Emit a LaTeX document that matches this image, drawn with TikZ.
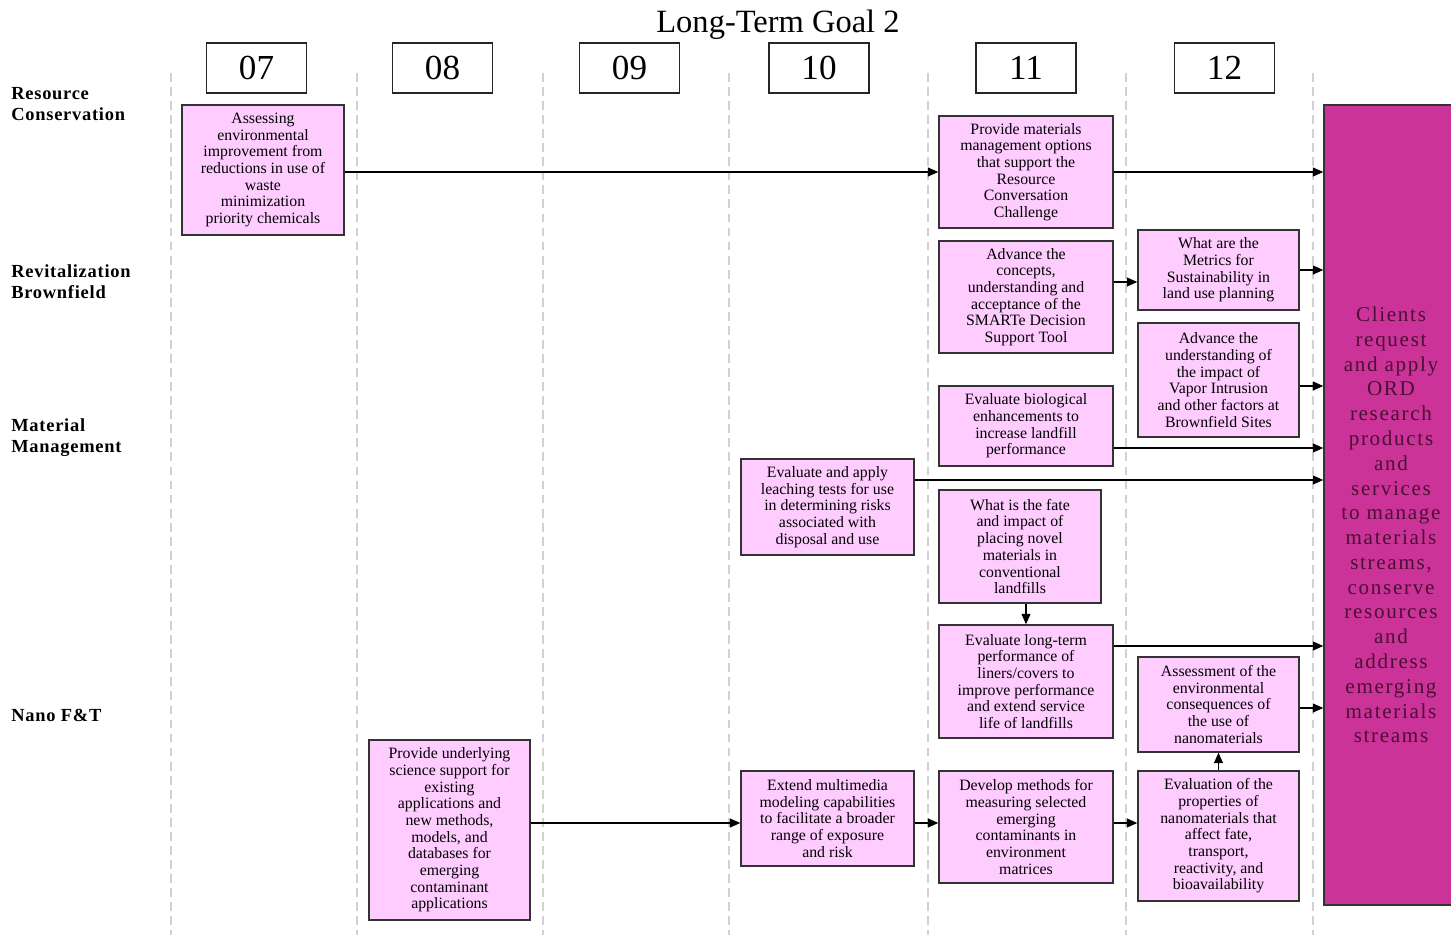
\documentclass[tikz,border=0pt]{standalone}
\usepackage{fontspec}
\setmainfont{Liberation Serif}
\newfontfamily\wideserif[LetterSpace=8]{Liberation Serif}
\newfontfamily\laneserif[LetterSpace=4]{Liberation Serif}
\usepackage{xcolor}
\usetikzlibrary{arrows.meta, positioning}
\definecolor{taskpink}{HTML}{FFCCFF}
\definecolor{clientmagenta}{HTML}{CC3399}
\definecolor{clientink}{HTML}{4A0F33}

\begin{document}
\begin{tikzpicture}[x=0.02cm, y=-0.02cm,
    task/.style={draw=black!80, line width=0.8pt, fill=taskpink, align=center, inner sep=1pt, font=\fontsize{9}{9.5}\selectfont},
    year/.style={draw=black!85, line width=0.8pt, minimum width=2cm, minimum height=1cm, inner sep=0pt, font=\fontsize{20}{20}\selectfont},
    lane/.style={anchor=west, align=left, inner sep=0pt, font=\laneserif\bfseries\fontsize{10.5}{11.9}\selectfont},
    link/.style={-{Triangle[length=0.21cm,width=0.18cm]}, line width=0.7pt},
    gridline/.style={draw=black!18, line width=0.6pt, dash pattern=on 5pt off 3pt}]
    \useasboundingbox (0,0) rectangle (1451,935);

    % year columns
    \foreach \xx in {171,357,543,729,928,1126,1313}
        \draw[gridline] (\xx,73) -- (\xx,935);
    \node[font=\fontsize{18.5}{20}\selectfont] (goal) at (778,25) {Long-Term Goal 2};
    \foreach \yr/\xx in {07/256.5, 08/442.5, 09/629.5, 10/819, 11/1026, 12/1224.5}
        \node[fill=white, year] (yr\yr) at (\xx,68) {\yr};

    % lanes
    \node[lane] (rescons) at (11,104.5) {Resource\\Conservation};
    \node[lane] (brown) at (11,281.5) {Revitalization\\Brownfield};
    \node[lane] (matman) at (11,437.5) {Material\\Management};
    \node[lane] (nano) at (11,715) {Nano F\&T};

    % tasks
    \node[task, minimum width=3.24cm, minimum height=2.6cm] (assess) at (263,170) {Assessing\\environmental\\improvement from\\reductions in use of\\waste\\minimization\\priority chemicals};
    \node[task, minimum width=3.48cm, minimum height=2.24cm] (options) at (1026,172) {Provide materials\\management options\\that support the\\Resource\\Conversation\\Challenge};
    \node[task, minimum width=3.48cm, minimum height=2.24cm] (smarte) at (1026,297) {Advance the\\concepts,\\understanding and\\acceptance of the\\SMARTe Decision\\Support Tool};
    \node[task, minimum width=3.22cm, minimum height=1.6cm] (metrics) at (1218.5,270) {What are the\\Metrics for\\Sustainability in\\land use planning};
    \node[task, minimum width=3.22cm, minimum height=2.28cm] (vapor) at (1218.5,380) {Advance the\\understanding of\\the impact of\\Vapor Intrusion\\and other factors at\\Brownfield Sites};
    \node[task, minimum width=3.48cm, minimum height=1.6cm] (bio) at (1026,426) {Evaluate biological\\enhancements to\\increase landfill\\performance};
    \node[task, minimum width=3.46cm, minimum height=1.92cm] (leach) at (827.5,507) {Evaluate and apply\\leaching tests for use\\in determining risks\\associated with\\disposal and use};
    \node[task, minimum width=3.24cm, minimum height=2.26cm] (fate) at (1020,546.5) {What is the fate\\and impact of\\placing novel\\materials in\\conventional\\landfills};
    \node[task, minimum width=3.48cm, minimum height=2.26cm] (liners) at (1026,681.5) {Evaluate long-term\\performance of\\liners/covers to\\improve performance\\and extend service\\life of landfills};
    \node[task, minimum width=3.22cm, minimum height=1.9cm] (nanoenv) at (1218.5,704.5) {Assessment of the\\environmental\\consequences of\\the use of\\nanomaterials};
    \node[task, minimum width=3.22cm, minimum height=3.6cm] (science) at (449.5,830) {Provide underlying\\science support for\\existing\\applications and\\new methods,\\models, and\\databases for\\emerging\\contaminant\\applications};
    \node[task, minimum width=3.46cm, minimum height=1.9cm] (multimedia) at (827.5,818.5) {Extend multimedia\\modeling capabilities\\to facilitate a broader\\range of exposure\\and risk};
    \node[task, minimum width=3.48cm, minimum height=2.24cm] (methods) at (1026,827) {Develop methods for\\measuring selected\\emerging\\contaminants in\\environment\\matrices};
    \node[task, minimum width=3.22cm, minimum height=2.6cm] (nanoprop) at (1218.5,836) {Evaluation of the\\properties of\\nanomaterials that\\affect fate,\\transport,\\reactivity, and\\bioavailability};

    % outcome
    \node[draw=black!80, line width=0.8pt, fill=clientmagenta, minimum width=2.6cm, minimum height=16cm] (clients) at (1389,505) {};
    \node[align=center, text=clientink, font=\wideserif\fontsize{12}{14.1}\selectfont] (clientsnote) at (1391,525) {Clients\\request\\and apply\\ORD\\research\\products\\and\\services\\to manage\\materials\\streams,\\conserve\\resources\\and\\address\\emerging\\materials\\streams};

    % links
    \draw[link] (assess.east |- options) -- (options.west);
    \draw[link] (options.east) -- (options.east -| clients.west);
    \draw[link] ([yshift=0.3cm]smarte.east) -- ([yshift=0.3cm]smarte.east -| metrics.west);
    \draw[link] (metrics.east) -- (metrics.east -| clients.west);
    \draw[link] ([yshift=-0.12cm]vapor.east) -- ([yshift=-0.12cm]vapor.east -| clients.west);
    \draw[link] ([yshift=-0.44cm]bio.east) -- ([yshift=-0.44cm]bio.east -| clients.west);
    \draw[link] ([yshift=0.54cm]leach.east) -- ([yshift=0.54cm]leach.east -| clients.west);
    \draw[link] (fate.south -| liners.north) -- (liners.north);
    \draw[link] ([yshift=0.71cm]liners.east) -- ([yshift=0.71cm]liners.east -| clients.west);
    \draw[link] ([yshift=-0.07cm]nanoenv.east) -- ([yshift=-0.07cm]nanoenv.east -| clients.west);
    \draw[link] ([yshift=0.14cm]science.east) -- ([yshift=0.14cm]science.east -| multimedia.west);
    \draw[link] ([yshift=-0.09cm]multimedia.east) -- ([yshift=-0.09cm]multimedia.east -| methods.west);
    \draw[link] ([yshift=0.08cm]methods.east) -- ([yshift=0.08cm]methods.east -| nanoprop.west);
    \draw[link] (nanoprop.north) -- (nanoenv.south);
\end{tikzpicture}
\end{document}
